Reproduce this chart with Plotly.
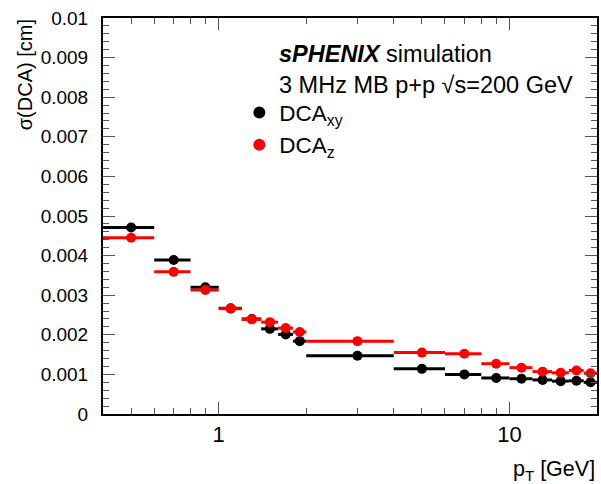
import plotly.graph_objects as go

# bin edges in pT [GeV]
pt_lo = [0.4, 0.6, 0.8, 1.0, 1.2, 1.4, 1.6, 1.8, 2.0, 4.0, 6.0, 8.0, 10.0, 12.0, 14.0, 16.0, 18.0]
pt_hi = [0.6, 0.8, 1.0, 1.2, 1.4, 1.6, 1.8, 2.0, 4.0, 6.0, 8.0, 10.0, 12.0, 14.0, 16.0, 18.0, 20.0]
pt_mid = [0.5, 0.7, 0.9, 1.1, 1.3, 1.5, 1.7, 1.9, 3.0, 5.0, 7.0, 9.0, 11.0, 13.0, 15.0, 17.0, 19.0]

dca_xy = [0.00471, 0.00389, 0.00320, 0.00267, 0.00240, 0.00215, 0.00201, 0.00184, 0.00147,
          0.00114, 0.00100, 0.00091, 0.00089, 0.00086, 0.00083, 0.00084, 0.00080]
dca_z = [0.00445, 0.00359, 0.00313, 0.00266, 0.00239, 0.00232, 0.00217, 0.00207, 0.00184,
         0.00155, 0.00152, 0.00127, 0.00117, 0.00107, 0.00104, 0.00110, 0.00103]

y_ticks = [0, 0.001, 0.002, 0.003, 0.004, 0.005, 0.006, 0.007, 0.008, 0.009, 0.01]
y_labels = ["0", "0.001", "0.002", "0.003", "0.004", "0.005", "0.006", "0.007", "0.008", "0.009", "0.01"]

FONT = "Liberation Sans, Arial, sans-serif"

err_plus = [h - m for h, m in zip(pt_hi, pt_mid)]
err_minus = [m - l for m, l in zip(pt_mid, pt_lo)]

fig = go.Figure()
for name, vals, col in [("DCA<sub>xy</sub>", dca_xy, "black"), ("DCA<sub>z</sub>", dca_z, "red")]:
    fig.add_trace(go.Scatter(
        x=pt_mid, y=vals, mode="markers", name=name,
        marker=dict(color=col, size=10),
        error_x=dict(type="data", array=err_plus, arrayminus=err_minus,
                     color=col, thickness=3, width=0),
    ))

minor_x = [0.5, 0.6, 0.7, 0.8, 0.9, 2, 3, 4, 5, 6, 7, 8, 9, 20]

fig.update_layout(
    width=601, height=484,
    margin=dict(l=103, r=2, t=18, b=70),
    plot_bgcolor="white", paper_bgcolor="white",
    font=dict(family=FONT, size=21, color="black"),
    showlegend=True,
    legend=dict(x=0.276, y=0.815, xanchor="left", yanchor="top",
                bgcolor="rgba(0,0,0,0)", font=dict(size=22.5),
                tracegroupgap=0, itemsizing="constant"),
    xaxis=dict(
        type="log", range=[-0.39794, 1.30103],
        tickvals=[1, 10], ticktext=["1", "10"],
        ticks="inside", ticklen=12, tickwidth=1, tickcolor="#555",
        minor=dict(tickvals=minor_x, ticks="inside", ticklen=6, tickcolor="#555"),
        showline=True, linecolor="black", linewidth=2, mirror="ticks",
        showgrid=False, zeroline=False,
        tickfont=dict(size=22),
    ),
    yaxis=dict(
        range=[0, 0.01],
        tickvals=y_ticks, ticktext=y_labels,
        ticks="inside", ticklen=12, tickwidth=1, tickcolor="#555",
        minor=dict(dtick=0.0002, ticks="inside", ticklen=6, tickcolor="#555"),
        showline=True, linecolor="black", linewidth=2, mirror="ticks",
        showgrid=False, zeroline=False,
        tickfont=dict(size=19), ticklabelstandoff=9,
    ),
    annotations=[
        dict(text="σ(DCA) [cm]", xref="paper", yref="paper", x=-0.158, y=1.003,
             xanchor="center", yanchor="top", textangle=-90, showarrow=False,
             font=dict(size=20)),
        dict(text="p<sub>T</sub> [GeV]", xref="paper", yref="paper", x=1.0, y=-0.143,
             xanchor="right", yanchor="middle", showarrow=False, font=dict(size=21.5)),
        dict(text="<b><i>sPHENIX</i></b> simulation", xref="paper", yref="paper",
             x=0.353, y=0.909, xanchor="left", yanchor="middle", showarrow=False,
             font=dict(size=23.5)),
        dict(text="3 MHz MB p+p √s=200 GeV", xref="paper", yref="paper",
             x=0.353, y=0.831, xanchor="left", yanchor="middle", showarrow=False,
             font=dict(size=23.5)),
    ],
)

fig.write_html("out.html", config={"displayModeBar": False},
               post_script="document.body.style.margin='0';")
